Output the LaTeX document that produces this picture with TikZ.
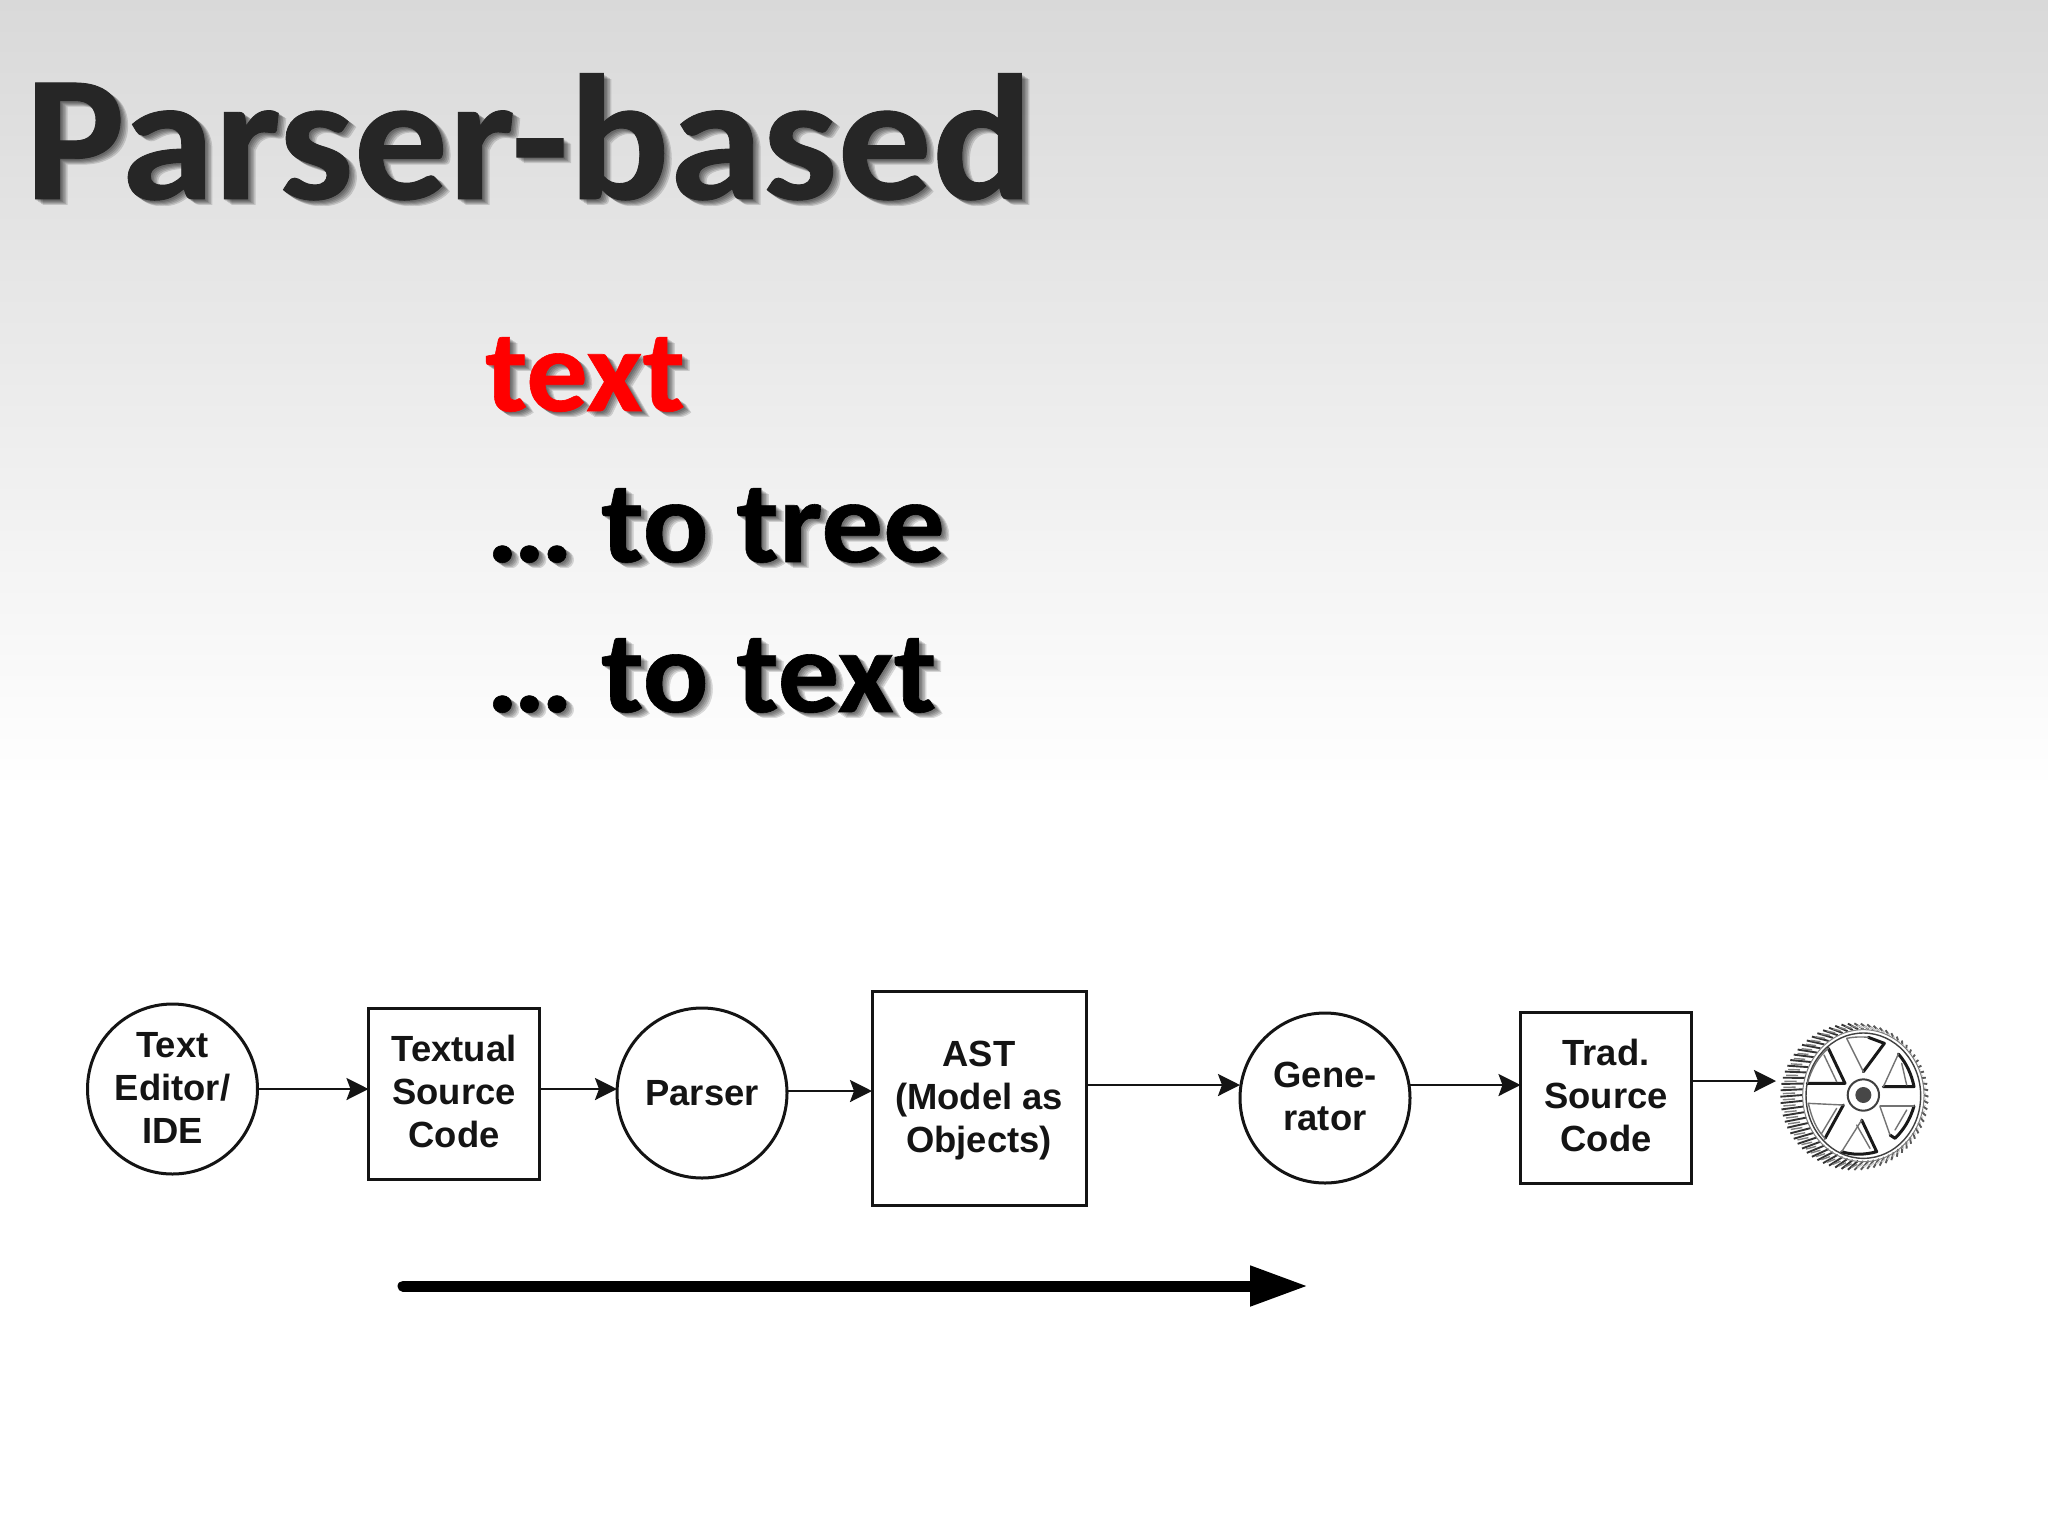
\documentclass[tikz,border=0pt]{standalone}
\usepackage{fontspec}
\setmainfont{Carlito}
\newfontfamily\widefont[FakeStretch=1.05,BoldFeatures={FakeBold=0.5}]{Carlito}
\newfontfamily\diagfont{Liberation Sans}
\usetikzlibrary{arrows.meta,calc,fadings,backgrounds}
\definecolor{bgtop}{HTML}{D9D9D9}
\definecolor{titleink}{HTML}{262626}
\definecolor{inkline}{HTML}{141414}
\tikzset{
  x=0.5pt,y=-0.5pt,
  headline/.style={anchor=base west,inner sep=0pt,outer sep=0pt,font=\widefont\fontsize{89.5}{89.5}\selectfont\bfseries},
  bodyline/.style={anchor=base west,inner sep=0pt,outer sep=0pt,font=\widefont\fontsize{58.5}{58.5}\selectfont\bfseries},
  diagtext/.style={font=\diagfont\bfseries\fontsize{18.2}{21.5}\selectfont,align=center,text=inkline,inner sep=0pt,outer sep=0pt,draw=inkline,line width=1.5pt},
  roundnode/.style={diagtext,circle,minimum size=85pt},
  boxnode/.style={diagtext,rectangle,minimum width=#1,minimum height=#1},
  flowarrow/.style={draw=inkline,line width=1.3pt,-{Stealth[length=11pt,width=11pt,inset=2pt]}},
  bigarrow/.style={draw=black,line width=5.5pt,line cap=round,-{Triangle[length=29pt,width=19pt]}},
  lightedge/.style={line width=0.7pt,draw=black!55},
  heavyedge/.style={line width=1.5pt,draw=black!90}
}
\begin{tikzfadingfrompicture}[name=fadetitle]
  \node[headline,text=transparent!0] {Parser-based};
\end{tikzfadingfrompicture}
\begin{tikzfadingfrompicture}[name=fadeone]
  \node[bodyline,text=transparent!0] {text};
\end{tikzfadingfrompicture}
\begin{tikzfadingfrompicture}[name=fadetwo]
  \node[bodyline,text=transparent!0] {… to tree};
\end{tikzfadingfrompicture}
\begin{tikzfadingfrompicture}[name=fadethree]
  \node[bodyline,text=transparent!0] {… to text};
\end{tikzfadingfrompicture}
\newcommand{\softshadow}[2]{%
  \foreach \dx/\dy in {1.5/1.5,3/2.5,4.5/3.5,6/4.5,7.5/5.5}{
    \fill[black,opacity=0.14,path fading=#1,fit fading=false,
          fading transform={shift={($(#2.center)+(\dx,\dy)$)}}]
      ($(#2.south west)+(\dx,\dy)$) rectangle ($(#2.north east)+(\dx,\dy)$);
  }}
\newcommand{\liftby}[1]{\rule[-#1]{0pt}{0pt}}
\newcommand{\dropby}[1]{\rule{0pt}{#1}}
\begin{document}
\begin{tikzpicture}
\useasboundingbox (0,0) rectangle (2048,1536);

\node[headline,text=titleink] (title) at (25,199) {Parser-based};
\node[bodyline,text=red] (l1) at (485,411) {text};
\node[bodyline,text=black] (l2) at (486,562) {… to tree};
\node[bodyline,text=black] (l3) at (486,712) {… to text};

\begin{scope}[on background layer]
  \fill[white] (0,0) rectangle (2048,1536);
  \shade[top color=bgtop,bottom color=white] (0,0) rectangle (2048,790);
  \softshadow{fadetitle}{title}
  \softshadow{fadeone}{l1}
  \softshadow{fadetwo}{l2}
  \softshadow{fadethree}{l3}
\end{scope}

\node[roundnode] (c1) at (172.5,1089) {Text\\Editor/\\IDE\liftby{1.3pt}};
\node[boxnode=85.5pt] (b2) at (454,1094) {Textual\\Source\\Code\liftby{2.6pt}};
\node[roundnode] (c3) at (702,1093) {Parser};
\node[boxnode=107pt] (b4) at (979,1098) {\dropby{15pt}AST\\(Model as\\Objects)};
\node[roundnode] (c5) at (1325,1098) {Gene-\\rator\liftby{1.3pt}};
\node[boxnode=85.5pt] (b6) at (1606,1098) {Trad.\\Source\\Code\liftby{2.6pt}};

\coordinate (gearin) at (1776,1081);
\coordinate (y45) at (0,1085);
\coordinate (y67) at (0,1081);
\coordinate (y34) at (0,1091);
\draw[flowarrow] (c1.east) -- (c1.east -| b2.west);
\draw[flowarrow] (b2.east |- c1.east) -- (c3.west |- c1.east);
\draw[flowarrow] (c3.east |- y34) -- (b4.west |- y34);
\draw[flowarrow] (b4.east |- y45) -- (c5.west |- y45);
\draw[flowarrow] (c5.east |- y45) -- (b6.west |- y45);
\draw[flowarrow] (b6.east |- y67) -- (gearin);

\coordinate (bigstart) at (403,1286);
\coordinate (bigend) at (1308,1286);
\draw[bigarrow] (bigstart) -- (bigend);

% gear, drawn in a local grid of 1/3 pixel
\begin{scope}[shift={(1700,980)},x=0.16667pt,y=-0.16667pt]
  \foreach \a in {0,5,...,355}{
    \pgfmathsetmacro{\gv}{\a>90&&\a<270?80:65}
    \draw[line width=0.95pt,draw=black!\gv] ({463+222*cos(\a)},{350+220*sin(\a)}) -- ({490+182*cos(\a)},{345+198*sin(\a)});
  }
  \foreach \a in {2.5,7.5,...,357.5}{
    \pgfmathsetmacro{\gv}{\a>90&&\a<270?50:20}
    \draw[line width=0.7pt,draw=black!\gv] ({463+215*cos(\a)},{350+213*sin(\a)}) -- ({480+195*cos(\a)},{348+205*sin(\a)});
  }
  \draw[line width=0.7pt,draw=black!75] (490,347) ellipse [x radius=172,y radius=188];
  \draw[line width=0.5pt,draw=black!50] (490,347) ellipse [x radius=182,y radius=198];
  \begin{scope}[line cap=round,line join=round]
    \draw[heavyedge] (385,205) -- (435,310) -- (322,310);
    \draw[lightedge] (322,310) .. controls (335,265) and (355,230) .. (385,205);
    \draw[lightedge] (372,225) -- (410,305);
    \draw[heavyedge] (490,275) -- (553,190) -- (505,172);
    \draw[lightedge] (440,175) -- (490,275);
    \draw[lightedge] (440,175) .. controls (465,170) and (485,170) .. (505,172);
    \draw[heavyedge] (595,222) .. controls (620,250) and (635,285) .. (642,320) -- (550,320);
    \draw[lightedge] (595,222) -- (550,320);
    \draw[lightedge] (605,250) .. controls (610,270) and (615,295) .. (620,315);
    \draw[heavyedge] (642,378) .. controls (630,420) and (610,450) .. (585,475) -- (570,465);
    \draw[lightedge] (540,378) -- (642,378);
    \draw[lightedge] (540,380) -- (570,465);
    \draw[lightedge] (620,390) -- (585,450);
    \draw[heavyedge] (485,420) -- (530,515) .. controls (495,525) and (455,525) .. (425,515);
    \draw[lightedge] (485,420) -- (425,515);
    \draw[lightedge] (470,435) -- (510,505);
    \draw[heavyedge] (430,375) -- (375,475);
    \draw[lightedge] (325,370) -- (430,375);
    \draw[lightedge] (325,370) .. controls (335,415) and (350,450) .. (375,475);
    \draw[lightedge] (410,385) -- (365,460);
  \end{scope}
  \draw[line width=1pt,draw=black!75] (490,345) circle [radius=47];
  \fill[black!72] (490,345) circle [radius=24];
\end{scope}
\end{tikzpicture}
\end{document}
